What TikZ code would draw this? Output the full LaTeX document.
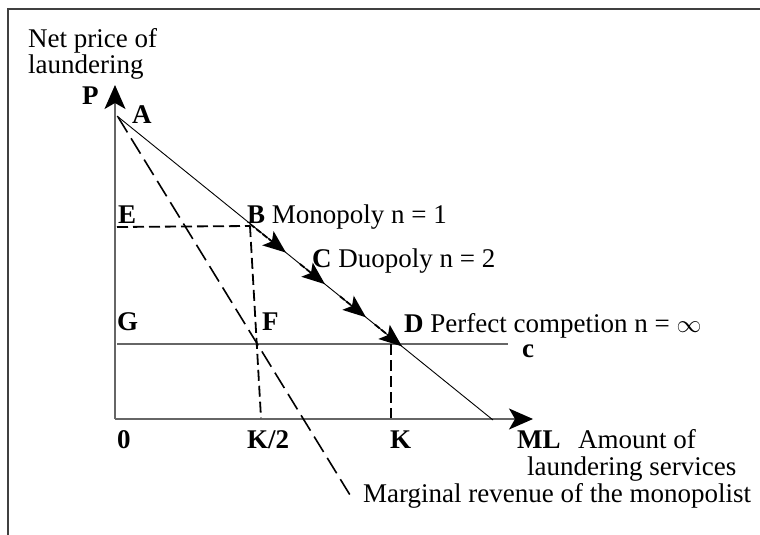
\documentclass[tikz,border=0pt]{standalone}
\usepackage{fontspec}
\setmainfont{Liberation Serif}
\usetikzlibrary{arrows.meta}
\begin{document}
\begin{tikzpicture}[x=1pt,y=-1pt,
  lbl/.style={anchor=base west,inner sep=0pt,font=\fontsize{27}{32}\selectfont},
  blbl/.style={lbl,font=\fontsize{27}{32}\selectfont\bfseries},
  axis/.style={draw=black!60,line width=1.5pt},
  bigtip/.style={-{Stealth[length=24pt,width=21pt,inset=6pt,color=black]}},
  movetip/.style={black,line width=1.8pt,dash pattern=on 6pt off 2pt,-{Stealth[length=23pt,width=18pt,inset=5pt]}},
  dline/.style={black,line width=1.8pt,dash pattern=on 11pt off 5pt},
  mrline/.style={black,line width=1.6pt,dash pattern=on 18pt off 7pt}]
\useasboundingbox (0,0) rectangle (760,535);
% frame
\coordinate (f1) at (8,540);
\coordinate (f2) at (8,9);
\coordinate (f3) at (765,9);
\draw[black!75,line width=2pt] (f1) -- (f2) -- (f3);
% key points
\coordinate (O) at (115,419);
\coordinate (Ptip) at (115,85);
\coordinate (Xtip) at (533,419);
\coordinate (A) at (117,116);
\coordinate (Dend) at (493,420);
\coordinate (B) at (250,226);
\coordinate (E) at (117,227);
\coordinate (G) at (117,344);
\coordinate (cend) at (508,344);
\coordinate (K2) at (261,418);
\coordinate (Dv) at (391,344);
\coordinate (K) at (391,418);
\coordinate (MRs) at (118,117);
\coordinate (MRe) at (350,495);
% axes
\draw[axis,bigtip] (O) -- (Ptip);
\draw[axis,bigtip] (O) -- (Xtip);
% cost line
\draw[axis] (G) -- (cend);
% demand
\draw[black,line width=0.9pt] (A) -- (Dend);
% dashed lines
\draw[dline] (E) -- (B);
\draw[dline] (B) -- (K2);
\draw[dline] (Dv) -- (K);
\draw[mrline] (MRs) -- (MRe);
% movement arrows along demand
\coordinate (m1s) at (250,224);
\coordinate (m1e) at (286,252.6);
\coordinate (m2s) at (300,264);
\coordinate (m2e) at (325,284.2);
\coordinate (m3s) at (340,296.3);
\coordinate (m3e) at (366,317.3);
\coordinate (m4s) at (375,324.6);
\coordinate (m4e) at (402,346.4);
\draw[movetip] (m1s) -- (m1e);
\draw[movetip] (m2s) -- (m2e);
\draw[movetip] (m3s) -- (m3e);
\draw[movetip] (m4s) -- (m4e);
% labels
\node[lbl] (t1) at (28,48) {Net price of};
\node[lbl] (t2) at (28,74) {laundering};
\node[blbl] (lP) at (82,104) {P};
\node[blbl] (lA) at (132,123) {A};
\node[blbl] (lE) at (118,223) {E};
\node[lbl] (lB) at (247,223) {\textbf{B} Monopoly n = 1};
\node[lbl] (lC) at (312,267) {\textbf{C} Duopoly n = 2};
\node[blbl] (lG) at (117,330) {G};
\node[blbl] (lF) at (262,330) {F};
\node[lbl] (lD) at (404,332) {\textbf{D} Perfect competion n = $\infty$};
\node[blbl] (lc) at (522,357) {c};
\node[blbl] (l0) at (117,448) {0};
\node[blbl] (lK2) at (247,448) {K/2};
\node[blbl] (lK) at (390,448) {K};
\node[blbl] (lML) at (517,448) {ML};
\node[lbl] (lAm) at (578,448) {Amount of};
\node[lbl] (lls) at (527,475) {laundering services};
\node[lbl] (lMR) at (363,502) {Marginal revenue of the monopolist};
\end{tikzpicture}
\end{document}
